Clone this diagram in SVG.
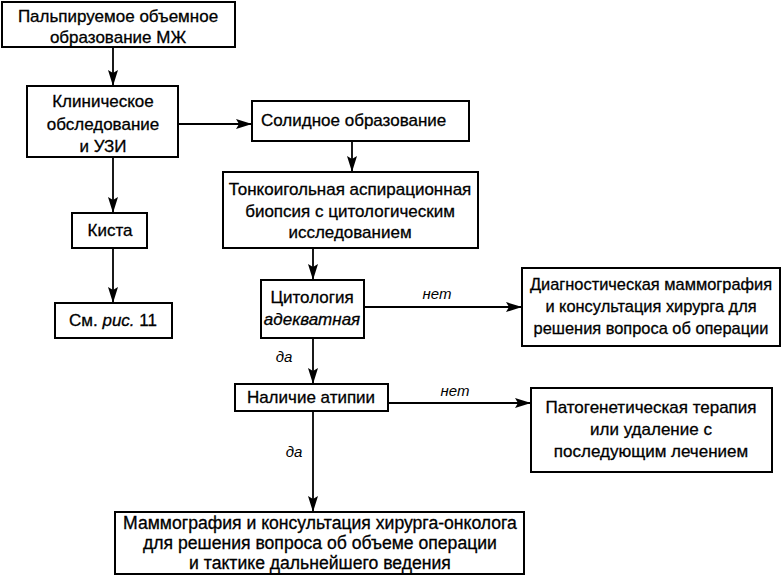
<svg xmlns="http://www.w3.org/2000/svg" width="783" height="577" viewBox="0 0 783 577">
<style>
.box{fill:#fff;stroke:#000;stroke-width:2}
.t{font-family:"Liberation Sans",Arial,sans-serif;font-size:17px;fill:#000;stroke:#000;stroke-width:0.3;text-anchor:middle}
.i{font-style:italic}
.lbl{font-family:"Liberation Sans",Arial,sans-serif;font-size:15px;font-style:italic;fill:#000;text-anchor:middle}
.c{fill:none;stroke:#000;stroke-width:1.8;marker-end:url(#ah)}
</style>
<defs>
<marker id="ah" markerUnits="userSpaceOnUse" markerWidth="17" markerHeight="10" refX="16" refY="5" orient="auto">
<path d="M0,0 L16,5 L0,10 L3,5 z" fill="#000"/>
</marker>
</defs>
<rect width="783" height="577" fill="#fff"/>
<g id="connectors">
<path class="c" d="M113,47 V86"/>
<path class="c" d="M178,124 H252"/>
<path class="c" d="M352,141 V172"/>
<path class="c" d="M113,157 V213"/>
<path class="c" d="M113,248 V303"/>
<path class="c" d="M313,248 V280"/>
<path class="c" d="M364,307 H522"/>
<path class="c" d="M313,338 V384"/>
<path class="c" d="M388,403 H531"/>
<path class="c" d="M313,411 V512"/>
<text class="lbl" x="437" y="299">нет</text>
<text class="lbl" x="284" y="362">да</text>
<text class="lbl" x="455" y="396">нет</text>
<text class="lbl" x="294" y="457">да</text>
</g>
<g id="n1"><rect class="box" x="2" y="2" width="233" height="45"/>
<text class="t" x="118" y="22">Пальпируемое объемное</text>
<text class="t" x="118" y="43">образование МЖ</text></g>
<g id="n2"><rect class="box" x="27" y="86" width="151" height="71"/>
<text class="t" x="103" y="107">Клиническое</text>
<text class="t" x="103" y="130">обследование</text>
<text class="t" x="103" y="152">и УЗИ</text></g>
<g id="n3"><rect class="box" x="252" y="101" width="217" height="40"/>
<text class="t" x="261" y="126" style="text-anchor:start">Солидное образование</text></g>
<g id="n4"><rect class="box" x="223" y="172" width="255" height="76"/>
<text class="t" x="350" y="195">Тонкоигольная аспирационная</text>
<text class="t" x="350" y="217">биопсия с цитологическим</text>
<text class="t" x="350" y="238">исследованием</text></g>
<g id="n5"><rect class="box" x="72" y="213" width="75" height="35"/>
<text class="t" x="110" y="236">Киста</text></g>
<g id="n6"><rect class="box" x="55" y="303" width="117" height="35"/>
<text class="t" x="113" y="326">См. <tspan class="i">рис.</tspan> 11</text></g>
<g id="n7"><rect class="box" x="261" y="280" width="103" height="58"/>
<text class="t" x="312" y="303">Цитология</text>
<text class="t i" x="312" y="325">адекватная</text></g>
<g id="n8"><rect class="box" x="522" y="268" width="258" height="78"/>
<text class="t" x="651" y="290" style="font-size:16.4px">Диагностическая маммография</text>
<text class="t" x="651" y="312" style="font-size:16.4px">и консультация хирурга для</text>
<text class="t" x="651" y="334" style="font-size:16.4px">решения вопроса об операции</text></g>
<g id="n9"><rect class="box" x="235" y="384" width="153" height="27"/>
<text class="t" x="311" y="403">Наличие атипии</text></g>
<g id="n10"><rect class="box" x="531" y="388" width="241" height="84"/>
<text class="t" x="651" y="413">Патогенетическая терапия</text>
<text class="t" x="651" y="435">или удаление с</text>
<text class="t" x="651" y="457">последующим лечением</text></g>
<g id="n11"><rect class="box" x="115" y="512" width="409" height="62"/>
<text class="t" x="320" y="529" style="font-size:17.6px">Маммография и консультация хирурга-онколога</text>
<text class="t" x="320" y="549" style="font-size:17.6px">для решения вопроса об объеме операции</text>
<text class="t" x="320" y="569" style="font-size:17.6px">и тактике дальнейшего ведения</text></g>
</svg>
